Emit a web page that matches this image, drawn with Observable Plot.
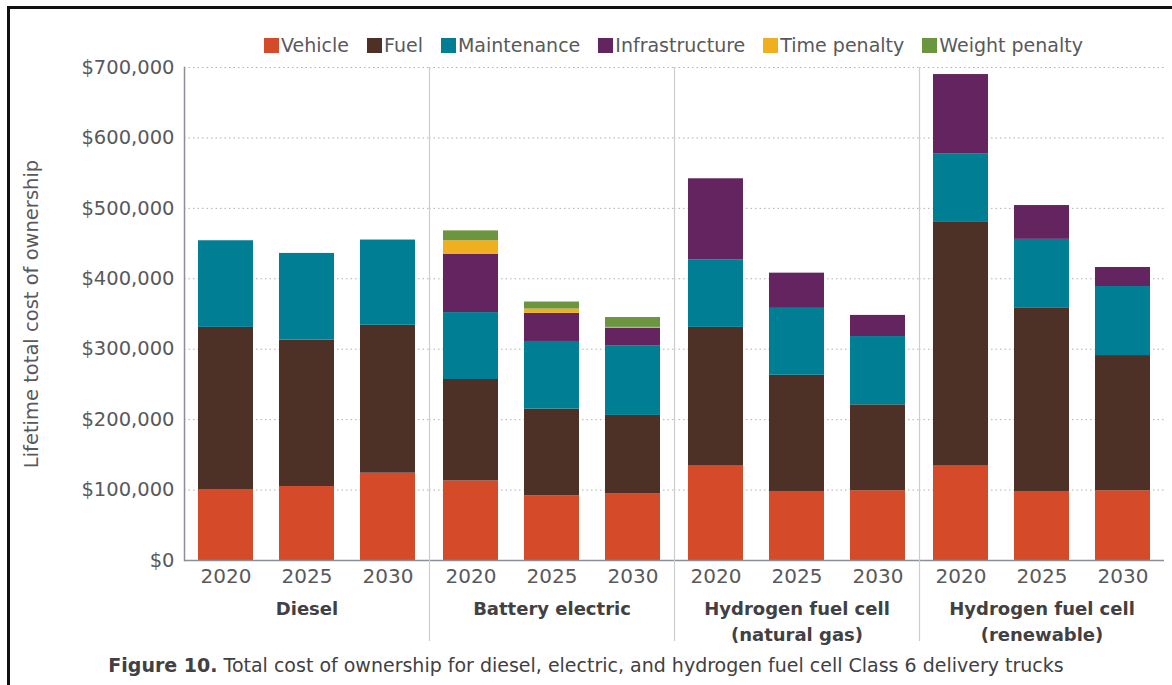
<!DOCTYPE html>
<html>
<head>
<meta charset="utf-8">
<script src="https://cdn.jsdelivr.net/npm/d3@7"></script>
<script src="https://cdn.jsdelivr.net/npm/@observablehq/plot@0.6"></script>
<style>
  html, body { margin: 0; padding: 0; background: #fff; width: 1172px; height: 685px; overflow: hidden; }
  body { position: relative; font-family: "DejaVu Sans", sans-serif; color: #58595b; }
  #border { position: absolute; left: 7px; top: 6px; width: 1200px; height: 720px; border: 3px solid #111; box-sizing: border-box; }
  #legend { position: absolute; left: 182px; width: 983px; top: 33px; height: 24px; display: flex; justify-content: center; align-items: center; font-size: 19px; color: #58595b; }
  #legend .item { display: flex; align-items: center; margin: 0 9px; }
  #legend .sw { width: 15px; height: 15px; margin-right: 2px; }
  #chart { position: absolute; left: 0; top: 57px; }
  #caption { position: absolute; left: 0; width: 1172px; top: 654px; text-align: center; font-size: 19px; color: #414042; }
  #caption b { color: #414042; }
</style>
</head>
<body>
<div id="border"></div>
<div id="legend"></div>
<div id="chart"></div>
<div id="caption"><b>Figure 10.</b> Total cost of ownership for diesel, electric, and hydrogen fuel cell Class 6 delivery trucks</div>
<script>
// ---- data (thousand US$) ----
const groups = ["Diesel", "Battery electric", "Hydrogen fuel cell (natural gas)", "Hydrogen fuel cell (renewable)"];
const groupLabels = ["Diesel", "Battery electric", "Hydrogen fuel cell\n(natural gas)", "Hydrogen fuel cell\n(renewable)"];
const years = ["2020", "2025", "2030"];
const components = ["Vehicle", "Fuel", "Maintenance", "Infrastructure", "Time penalty", "Weight penalty"];
const colors = ["#d54a28", "#4d3127", "#007e93", "#63245f", "#f0af1e", "#6c9540"];
// values ordered group by group, 2020/2025/2030 within each group
const vehicle        = [100, 105, 124, 113,  92,  95, 134,  98,  99, 134,  98,  99];
const fuel           = [231, 208, 210, 144, 123, 111, 197, 165, 122, 347, 260, 192];
const maintenance    = [123, 123, 121,  95,  96,  99,  96,  95,  97,  96,  98,  98];
const infrastructure = [  0,   0,   0,  83,  40,  25, 115,  50,  30, 113,  48,  27];
const timePenalty    = [  0,   0,   0,  19,   6,   1,   0,   0,   0,   0,   0,   0];
const weightPenalty  = [  0,   0,   0,  14,  10,  14,   0,   0,   0,   0,   0,   0];
const yTicks = [0, 100000, 200000, 300000, 400000, 500000, 600000, 700000];

const series = [vehicle, fuel, maintenance, infrastructure, timePenalty, weightPenalty];
const rows = [];
groups.forEach((g, gi) => years.forEach((yr, yi) => components.forEach((c, ci) => {
  const v = series[ci][gi * 3 + yi];
  if (v > 0) rows.push({group: g, year: yr, component: c, value: v * 1000});
})));

// legend
const legend = document.getElementById("legend");
components.forEach((c, i) => {
  const it = document.createElement("div");
  it.className = "item";
  it.innerHTML = `<span class="sw" style="background:${colors[i]}"></span><span>${c}</span>`;
  legend.appendChild(it);
});

const axisGray = "#8b9096";
const sepGray = "#c9ced3";
const fmt = d => "$" + d3.format(",")(d);

const chart = Plot.plot({
  width: 1172,
  height: 591,
  marginTop: 10,
  marginLeft: 182,
  marginRight: 7,
  marginBottom: 88,
  style: {fontFamily: "DejaVu Sans, sans-serif", fontSize: "19px", color: "#58595b", background: "transparent"},
  fx: {domain: groups, padding: 0, label: null},
  x: {domain: years, paddingInner: 0.32, paddingOuter: 0.16, label: null},
  y: {domain: [0, 700000], label: null},
  color: {domain: components, range: colors},
  marks: [
    Plot.gridY(yTicks, {stroke: "#b0b0b0", strokeOpacity: 1, strokeDasharray: "1.5,3"}),
    Plot.barY(rows, {fx: "group", x: "year", y: "value", fill: "component"}),
    Plot.ruleY([0], {stroke: axisGray, strokeWidth: 1.5}),
    Plot.frame({anchor: "left", fx: groups[0], stroke: axisGray, strokeWidth: 1.5}),
    ...groups.slice(1).map(g => Plot.frame({anchor: "left", fx: g, stroke: sepGray, strokeWidth: 1.2, insetBottom: -80})),
    Plot.axisY(yTicks, {tickSize: 0, tickPadding: 10, tickFormat: fmt, fontSize: 19.5, label: "Lifetime total cost of ownership", labelAnchor: "center", labelOffset: 160, labelArrow: "none", fill: "#58595b"}),
    Plot.axisX({tickSize: 0, tickPadding: 8, fontSize: 20, label: null, fill: "#58595b"}),
    Plot.axisFx({anchor: "bottom", tickSize: 0, tickPadding: 37, fontSize: 18, label: null, fontWeight: "bold", fill: "#414042", lineHeight: 1.4, tickFormat: d => groupLabels[groups.indexOf(d)]})
  ]
});
document.getElementById("chart").appendChild(chart);
</script>
</body>
</html>
